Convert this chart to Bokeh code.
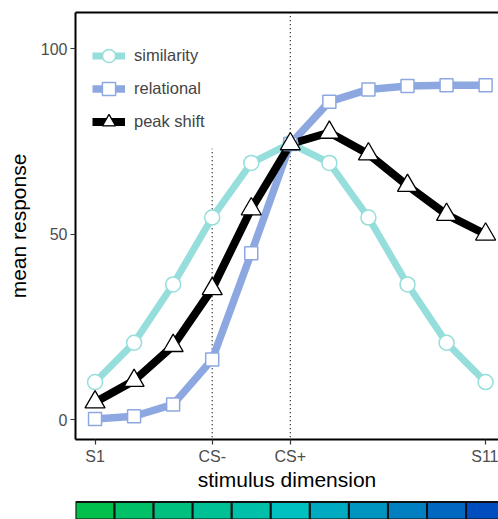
from bokeh.plotting import figure
from bokeh.models import (FixedTicker, LinearAxis, Range1d, Legend, LegendItem,
                          ColumnDataSource)
from bokeh.layouts import column
from bokeh.embed import file_html
from bokeh.resources import INLINE

# ---- data ----
stimulus = list(range(1, 12))
tick_positions = [1, 4, 6, 11]
tick_labels = ["S1", "CS-", "CS+", "S11"]
similarity = [10.2, 20.8, 36.5, 54.5, 69.2, 74.5, 69.2, 54.5, 36.5, 20.8, 10.2]
relational = [0.3, 1.0, 4.2, 16.3, 44.9, 74.3, 85.7, 89.0, 89.9, 90.1, 90.1]
peak_shift = [4.8, 10.6, 20.0, 35.3, 56.8, 74.3, 77.4, 71.6, 63.1, 55.3, 50.0]
ref_x = [4, 6]
ref_top = [73, 110]
bar_colors = ["#00C04D", "#00C068", "#00C080", "#00C095", "#00C0AA", "#00C0C0",
              "#00AAC0", "#0095C0", "#0080C0", "#0068C0", "#004DC0"]

FONT = "Liberation Sans"
sim_col = "#96DEDB"
rel_col = "#8DA8E0"
ps_col = "#000000"

x_range = Range1d(0.5, 11.33)

p = figure(width=498, height=500, x_range=x_range, y_range=Range1d(-5.25, 109.7),
           output_backend="svg", toolbar_location=None,
           min_border_left=75, min_border_right=0, min_border_top=12, min_border_bottom=61)
p.grid.visible = False
p.outline_line_color = None

# reference lines
src_ref = ColumnDataSource(dict(x=ref_x, top=ref_top, bottom=[-10, -10]))
p.segment(x0="x", x1="x", y0="bottom", y1="top", source=src_ref,
          line_color="black", line_width=1.2, line_dash="1 3")

src = ColumnDataSource(dict(x=stimulus, sim=similarity, rel=relational, ps=peak_shift))
l1 = p.line("x", "sim", source=src, line_color=sim_col, line_width=7)
l2 = p.line("x", "rel", source=src, line_color=rel_col, line_width=7.5)
l3 = p.line("x", "ps", source=src, line_color=ps_col, line_width=8)
m1 = p.scatter("x", "sim", source=src, marker="circle", size=15, fill_color="white",
               line_color=sim_col, line_width=1.5)
m2 = p.scatter("x", "rel", source=src, marker="square", size=13, fill_color="white",
               line_color=rel_col, line_width=1.5)
m3 = p.scatter("x", "ps", source=src, marker="triangle", size=20, fill_color="white",
               line_color=ps_col, line_width=1.3)

legend = Legend(items=[
    LegendItem(label="similarity", renderers=[l1, m1]),
    LegendItem(label="relational", renderers=[l2, m2]),
    LegendItem(label="peak shift", renderers=[l3, m3]),
], location=(17, 301))
legend.glyph_width = 33
legend.glyph_height = 33
legend.spacing = 0
legend.padding = 0
legend.margin = 0
legend.label_standoff = 9
legend.label_text_font = FONT
legend.label_text_font_size = "16.5px"
legend.label_height = 20
legend.background_fill_alpha = 0
legend.border_line_color = None
p.add_layout(legend, "center")

# axes styling
xa = p.xaxis[0]
xa.ticker = FixedTicker(ticks=tick_positions)
xa.major_label_overrides = {t: l for t, l in zip(tick_positions, tick_labels)}
xa.axis_label = "stimulus dimension"
ya = p.yaxis[0]
ya.ticker = FixedTicker(ticks=[0, 50, 100])
ya.axis_label = "mean response"
for ax in (xa, ya):
    ax.axis_line_width = 2
    ax.axis_line_color = "black"
    ax.major_tick_line_color = "#333333"
    ax.major_tick_line_width = 1.2
    ax.major_tick_out = 5
    ax.major_tick_in = 0
    ax.minor_tick_line_color = None
    ax.major_label_text_font = FONT
    ax.major_label_text_font_size = "16px"
    ax.major_label_text_color = "#4D4D4D"
    ax.axis_label_text_font = FONT
    ax.axis_label_text_font_size = "21px"
    ax.axis_label_text_font_style = "normal"
    ax.axis_label_text_color = "black"
xa.major_label_standoff = 3
xa.axis_label_standoff = 0
ya.major_label_standoff = 3
ya.axis_label_standoff = 8

top = LinearAxis(ticker=FixedTicker(ticks=[]), axis_line_width=2, axis_line_color="black",
                 major_tick_line_color=None, minor_tick_line_color=None,
                 major_label_text_font_size="0px")
p.add_layout(top, "above")

# color bar strip
cb = figure(width=498, height=19, x_range=x_range, y_range=Range1d(0, 1.08),
            output_backend="svg", toolbar_location=None,
            min_border_left=75, min_border_right=0, min_border_top=0, min_border_bottom=0)
cb.axis.visible = False
cb.grid.visible = False
cb.outline_line_color = None
csrc = ColumnDataSource(dict(x=stimulus, c=bar_colors))
cb.rect(x="x", y=0.5, width=1, height=1, source=csrc, fill_color="c",
        line_color="#111111", line_width=2)

layout = column(p, cb, spacing=0)
open("out.html", "w").write(file_html(layout, INLINE))
